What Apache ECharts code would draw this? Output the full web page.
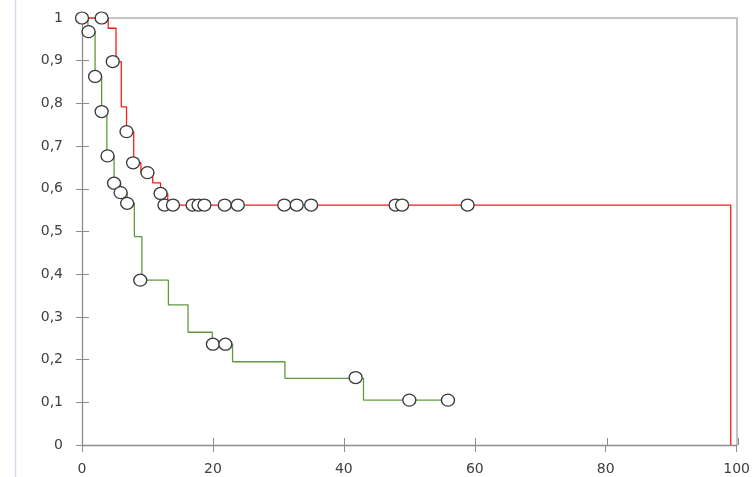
<!DOCTYPE html>
<html>
<head>
<meta charset="utf-8">
<script src="https://cdn.jsdelivr.net/npm/echarts@6/dist/echarts.min.js"></script>
<style>
  html, body { margin: 0; padding: 0; background: #fff; }
  #chart { width: 753px; height: 477px; }
</style>
</head>
<body>
<div id="chart"></div>
<script>
// Survival step curves: [time, survival] at each drop
const redSteps = [[0, 1], [4, 0.976], [5.2, 0.898], [6, 0.792], [6.8, 0.734], [7.9, 0.661], [9, 0.638],
  [10.8, 0.614], [12, 0.589], [13.1, 0.562], [99.1, 0.562], [99.1, 0]];
const greenSteps = [[0, 1], [0.9, 0.968], [2, 0.863], [3, 0.781], [3.8, 0.677], [4.9, 0.613], [5.9, 0.591],
  [6.9, 0.566], [8, 0.488], [9.15, 0.386], [13.2, 0.328], [16.2, 0.264], [19.9, 0.236], [23, 0.195],
  [31, 0.156], [43, 0.105], [56, 0.105]];

// Observation markers (hollow circles)
const redMarks = [[3, 1], [4.7, 0.898], [6.8, 0.734], [7.8, 0.661], [10, 0.638], [12, 0.589],
  [12.6, 0.562], [13.9, 0.562], [16.9, 0.562], [17.8, 0.562], [18.7, 0.562], [21.8, 0.562], [23.8, 0.562],
  [30.9, 0.562], [32.8, 0.562], [35, 0.562], [47.9, 0.562], [48.9, 0.562], [58.9, 0.562]];
const greenMarks = [[0, 1], [1, 0.968], [2, 0.863], [3, 0.781], [3.9, 0.677], [4.9, 0.613], [5.9, 0.591],
  [6.9, 0.566], [8.9, 0.386], [20, 0.236], [21.9, 0.236], [41.8, 0.158], [50, 0.105], [55.9, 0.105]];

// Tick labels
const xTickLabels = ['0', '20', '40', '60', '80', '100'];
const yTickLabels = ['0', '0,1', '0,2', '0,3', '0,4', '0,5', '0,6', '0,7', '0,8', '0,9', '1'];

const axisGray = '#8c8c8c';
const frameGray = '#c4c4c4';
const labelStyle = { color: '#404040', fontSize: 14, fontFamily: 'DejaVu Sans, sans-serif' };

const xBase = { type: 'value', min: 0, max: 100, interval: 20, splitLine: { show: false } };
const yBase = { type: 'value', min: 0, max: 1, interval: 0.1, splitLine: { show: false } };
const gridBox = { left: 82, right: 15, top: 18, bottom: 32, containLabel: false };

const chart = echarts.init(document.getElementById('chart'), null, { renderer: 'canvas' });
chart.setOption({
  animation: false,
  backgroundColor: '#ffffff',
  // grid 0 carries the data and the frame; grid 1 overlays it for the inner half of the ticks
  grid: [Object.assign({}, gridBox), Object.assign({}, gridBox)],
  graphic: [{
    type: 'line', shape: { x1: 15.5, y1: 0, x2: 15.5, y2: 477 },
    style: { stroke: '#d3dbe6', lineWidth: 1.5 }, silent: true
  }],
  xAxis: [
    Object.assign({}, xBase, {
      gridIndex: 0, position: 'bottom',
      axisLine: { show: true, onZero: false, lineStyle: { color: axisGray, width: 1.3 } },
      axisTick: { show: true, inside: false, length: 7, lineStyle: { color: axisGray } },
      axisLabel: Object.assign({ margin: 17, formatter: v => xTickLabels[Math.round(v / 20)] }, labelStyle)
    }),
    Object.assign({}, xBase, {
      gridIndex: 0, position: 'top',
      axisLine: { show: true, onZero: false, lineStyle: { color: frameGray, width: 2 } },
      axisTick: { show: false },
      axisLabel: { show: false }
    }),
    Object.assign({}, xBase, {
      gridIndex: 1, position: 'bottom',
      axisLine: { show: false, onZero: false },
      axisTick: { show: true, inside: true, length: 7, lineStyle: { color: axisGray } },
      axisLabel: { show: false }
    })
  ],
  yAxis: [
    Object.assign({}, yBase, {
      gridIndex: 0, position: 'left',
      axisLine: { show: true, onZero: false, lineStyle: { color: axisGray, width: 1.3 } },
      axisTick: { show: true, inside: false, length: 6, lineStyle: { color: axisGray } },
      axisLabel: Object.assign({ margin: 19, formatter: v => yTickLabels[Math.round(v * 10)] }, labelStyle)
    }),
    Object.assign({}, yBase, {
      gridIndex: 0, position: 'right',
      axisLine: { show: true, onZero: false, lineStyle: { color: frameGray, width: 2 } },
      axisTick: { show: false },
      axisLabel: { show: false }
    }),
    Object.assign({}, yBase, {
      gridIndex: 1, position: 'left',
      axisLine: { show: false, onZero: false },
      axisTick: { show: true, inside: true, length: 7, lineStyle: { color: axisGray } },
      axisLabel: { show: false }
    })
  ],
  series: [
    // empty series so the frame and inner-tick axes are laid out
    { type: 'line', data: [], xAxisIndex: 1, yAxisIndex: 1, silent: true },
    { type: 'line', data: [], xAxisIndex: 2, yAxisIndex: 2, silent: true },
    {
      type: 'line', step: 'end', data: greenSteps, showSymbol: false, z: 2,
      xAxisIndex: 0, yAxisIndex: 0,
      lineStyle: { color: '#5f9a40', width: 1.3 }
    },
    {
      type: 'line', step: 'end', data: redSteps, showSymbol: false, z: 2,
      xAxisIndex: 0, yAxisIndex: 0,
      lineStyle: { color: '#ff1a1a', width: 1.3 }
    },
    {
      type: 'scatter', data: greenMarks, symbol: 'circle', symbolSize: [13, 12], z: 3,
      xAxisIndex: 0, yAxisIndex: 0,
      itemStyle: { color: '#ffffff', borderColor: '#3a3a3a', borderWidth: 1.3, opacity: 1 }
    },
    {
      type: 'scatter', data: redMarks, symbol: 'circle', symbolSize: [13, 12], z: 3,
      xAxisIndex: 0, yAxisIndex: 0,
      itemStyle: { color: '#ffffff', borderColor: '#3a3a3a', borderWidth: 1.3, opacity: 1 }
    }
  ]
});
</script>
</body>
</html>
